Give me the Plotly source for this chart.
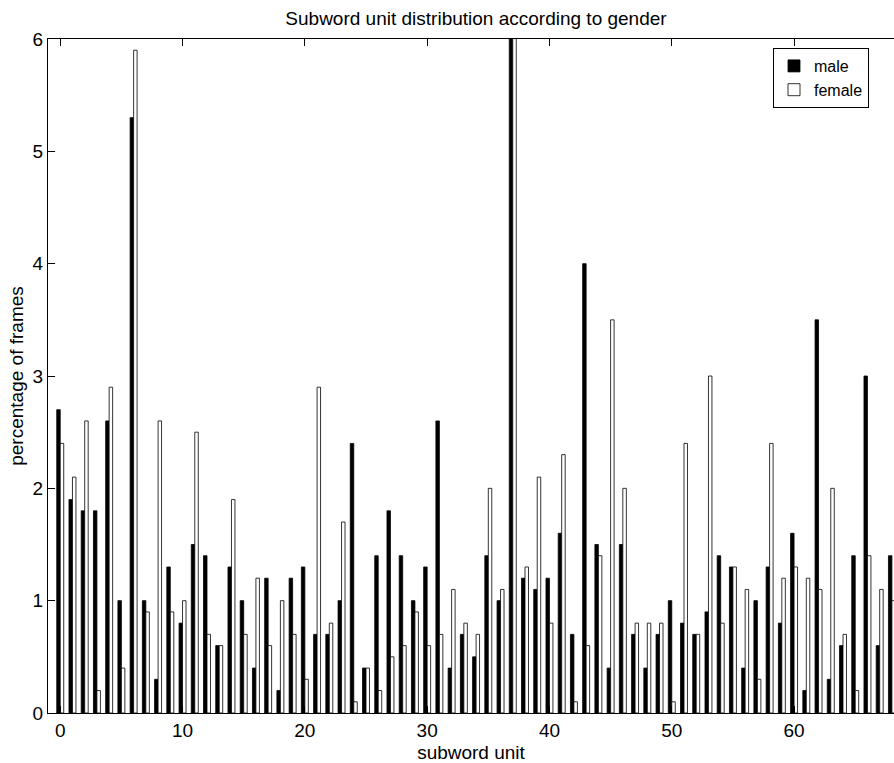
import plotly.graph_objects as go

units = list(range(69))
male = [2.7, 1.9, 1.8, 1.8, 2.6, 1.0, 5.3, 1.0, 0.3, 1.3,
        0.8, 1.5, 1.4, 0.6, 1.3, 1.0, 0.4, 1.2, 0.2, 1.2,
        1.3, 0.7, 0.7, 1.0, 2.4, 0.4, 1.4, 1.8, 1.4, 1.0,
        1.3, 2.6, 0.4, 0.7, 0.5, 1.4, 1.0, 6.8, 1.2, 1.1,
        1.2, 1.6, 0.7, 4.0, 1.5, 0.4, 1.5, 0.7, 0.4, 0.7,
        1.0, 0.8, 0.7, 0.9, 1.4, 1.3, 0.4, 1.0, 1.3, 0.8,
        1.6, 0.2, 3.5, 0.3, 0.6, 1.4, 3.0, 0.6, 1.4]
female = [2.4, 2.1, 2.6, 0.2, 2.9, 0.4, 5.9, 0.9, 2.6, 0.9,
          1.0, 2.5, 0.7, 0.6, 1.9, 0.7, 1.2, 0.6, 1.0, 0.7,
          0.3, 2.9, 0.8, 1.7, 0.1, 0.4, 0.2, 0.5, 0.6, 0.9,
          0.6, 0.7, 1.1, 0.8, 0.7, 2.0, 1.1, 6.3, 1.3, 2.1,
          0.8, 2.3, 0.1, 0.6, 1.4, 3.5, 2.0, 0.8, 0.8, 0.8,
          0.1, 2.4, 0.7, 3.0, 0.8, 1.3, 1.1, 0.3, 2.4, 1.2,
          1.3, 1.2, 1.1, 2.0, 0.7, 0.2, 1.4, 1.1, 1.0]
x_ticks = [0, 10, 20, 30, 40, 50, 60]
y_ticks = [0, 1, 2, 3, 4, 5, 6]

FONT = "Liberation Sans, Arial, Helvetica, sans-serif"

fig = go.Figure()
fig.add_trace(go.Bar(x=units, y=male, name="male",
                     marker=dict(color="black", line=dict(color="black", width=0.8))))
fig.add_trace(go.Bar(x=units, y=female, name="female",
                     marker=dict(color="white", line=dict(color="black", width=0.8))))

fig.update_layout(
    width=894, height=763,
    margin=dict(l=48, r=0, t=39, b=50),
    paper_bgcolor="white", plot_bgcolor="white",
    barmode="group", bargap=0.43, bargroupgap=0.0,
    font=dict(family=FONT, size=19, color="black"),
    title=dict(text="Subword unit distribution according to gender",
               x=(48 + 904) / 2 / 894, xanchor="center",
               y=1 - 18 / 763, yanchor="middle",
               font=dict(family=FONT, size=19, color="black")),
    legend=dict(x=(773 - 48) / 846, xanchor="left",
                y=(713 - 48) / 674, yanchor="top",
                bgcolor="white", bordercolor="black", borderwidth=1,
                font=dict(family=FONT, size=16, color="black"),
                tracegroupgap=0, itemwidth=30),
    showlegend=True,
)

fig.update_xaxes(
    range=[-1.0, 68.17], tickvals=x_ticks, ticktext=[str(v) for v in x_ticks],
    ticks="inside", ticklen=7, tickwidth=1, tickcolor="black",
    showline=True, linecolor="black", linewidth=1, mirror="ticks",
    showgrid=False, zeroline=False,
    title=dict(text="subword unit", standoff=8, font=dict(family=FONT, size=19)),
    tickfont=dict(family=FONT, size=19),
)
fig.update_yaxes(
    range=[0, 6], tickvals=y_ticks, ticktext=[str(v) for v in y_ticks],
    ticks="inside", ticklen=7, tickwidth=1, tickcolor="black",
    showline=True, linecolor="black", linewidth=1, mirror=False,
    showgrid=False, zeroline=False,
    title=dict(text="percentage of frames", standoff=3, font=dict(family=FONT, size=19)),
    tickfont=dict(family=FONT, size=19),
)

fig.write_html("out.html")
